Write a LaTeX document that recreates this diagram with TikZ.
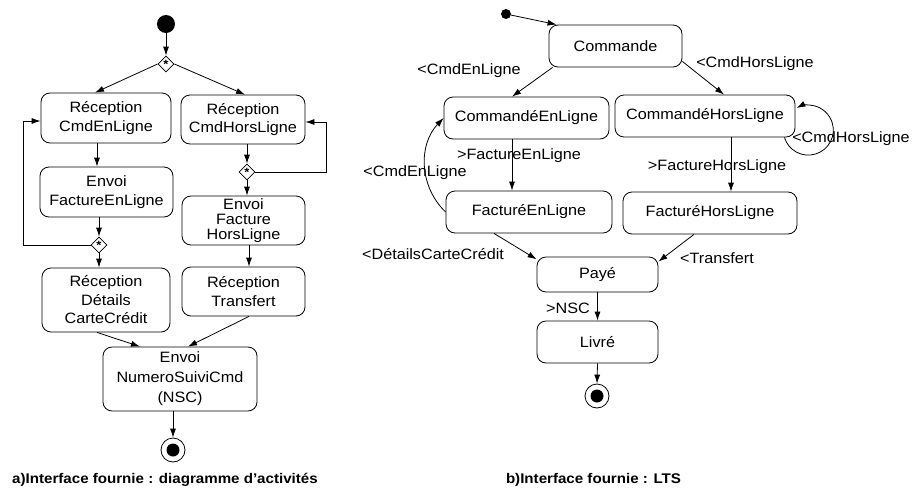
\documentclass[tikz,border=0pt]{standalone}
\usepackage{fontspec}
\setmainfont{Liberation Sans}[FakeStretch=1.08]
\usetikzlibrary{arrows.meta,shapes.geometric}

\begin{document}
\begin{tikzpicture}[x=1pt,y=1pt,
  act/.style={draw, rounded corners=9pt, align=center, inner sep=0pt, line width=0.8pt,
    font=\fontsize{15}{18.5}\selectfont},
  arr/.style={-{Latex[length=9pt,width=6pt]}, line width=0.8pt},
  choice/.style={draw, diamond, minimum size=16pt, inner sep=0pt, line width=0.8pt,
    font=\bfseries\fontsize{12}{12}\selectfont},
  debut/.style={circle, fill, inner sep=0pt},
  fin/.style={circle, draw, line width=0.8pt, inner sep=0pt, minimum size=24pt,
    path picture={\fill (path picture bounding box.center) circle (6.5pt);}},
  lbl/.style={inner sep=0pt, font=\fontsize{15}{18}\selectfont},
  capt/.style={inner sep=0pt, font=\bfseries\fontsize{14}{16}\selectfont}]
\useasboundingbox (0,0) rectangle (914,-491);

% a) diagramme d'activites
\node[debut, minimum size=18pt] (deb) at (166,-24) {};
\node[choice] (d1) at (166,-64) {\raisebox{-3.5pt}{*}};
\node[act, minimum width=130pt, minimum height=50pt] (rcl) at (106,-118) {Réception\\CmdEnLigne};
\node[act, minimum width=124pt, minimum height=49pt] (rch) at (243,-119.5) {Réception\\CmdHorsLigne};
\node[act, minimum width=133pt, minimum height=50pt] (efl) at (106.5,-192) {Envoi\\FactureEnLigne};
\node[choice] (d2) at (247,-172) {\raisebox{-3.5pt}{*}};
\node[act, minimum width=123pt, minimum height=49pt, font=\fontsize{15}{15}\selectfont] (efh) at (243.5,-220.5) {Envoi\\Facture\\HorsLigne};
\node[choice] (d3) at (99,-245) {\raisebox{-3.5pt}{*}};
\node[act, minimum width=128pt, minimum height=64pt] (rdc) at (106,-300) {Réception\\Détails\\CarteCrédit};
\node[act, minimum width=123pt, minimum height=49pt] (rtr) at (243.5,-291.5) {Réception\\Transfert};
\node[act, minimum width=154pt, minimum height=64pt, font=\fontsize{15}{20}\selectfont] (nsc) at (180,-379) {Envoi\\NumeroSuiviCmd\\(NSC)};
\node[fin] (fina) at (173,-450) {};
\coordinate (bl) at (23,-121);
\coordinate (br) at (326,-122);

\draw[arr] (deb) -- (d1);
\draw[arr] (d1.west) -- ([xshift=-11pt]rcl.north);
\draw[arr] (d1.east) -- ([xshift=2pt]rch.north);
\draw[arr] ([xshift=-9pt]rcl.south) -- ([xshift=-9pt]rcl.south |- efl.north);
\draw[arr] (efl.south -| d3) -- (d3.north);
\draw[arr] (d3.south) -- (d3 |- rdc.north);
\draw[arr] (d3.west) -| (bl) -- (bl -| rcl.west);
\draw[arr] (rch.south -| d2) -- (d2.north);
\draw[arr] (d2.east) -| (br) -- (br -| rch.east);
\draw[arr] (d2.south) -- (d2 |- efh.north);
\draw[arr] ([xshift=5.5pt]efh.south) -- ([xshift=5.5pt]efh.south |- rtr.north);
\draw[arr] ([xshift=-9pt]rdc.south) -- ([xshift=-40pt]nsc.north);
\draw[arr] ([xshift=5.5pt]rtr.south) -- ([xshift=8pt]nsc.north);
\draw[arr] ([xshift=-7pt]nsc.south) -- (fina.north);

% b) LTS
\node[debut, minimum size=10pt] (deb2) at (506,-14) {};
\node[act, minimum width=133pt, minimum height=42pt] (cmd) at (615.5,-46) {Commande};
\node[act, minimum width=165pt, minimum height=42pt] (cel) at (526.5,-118) {CommandéEnLigne};
\node[act, minimum width=180pt, minimum height=42pt] (chl) at (705,-116) {CommandéHorsLigne};
\node[act, minimum width=166pt, minimum height=42pt] (fel) at (529,-212) {FacturéEnLigne};
\node[act, minimum width=174pt, minimum height=42pt] (fhl) at (710,-213) {FacturéHorsLigne};
\node[act, minimum width=121pt, minimum height=35pt] (paye) at (597.5,-274.5) {Payé};
\node[act, minimum width=121pt, minimum height=42pt] (livre) at (597.5,-342) {Livré};
\node[fin] (finb) at (597,-396) {};

\draw[arr] (deb2) -- ([xshift=8pt]cmd.north west);
\draw[arr] ([xshift=4pt]cmd.south west) -- ([xshift=-14.5pt]cel.north);
\draw[arr] (cmd.-13) -- ([xshift=19pt]chl.north);
\draw[arr] ([xshift=-11pt]chl.south east) arc[start angle=197, end angle=478, radius=25pt];
\draw[arr] ([xshift=-14.5pt]cel.south) -- ([xshift=-14.5pt]cel.south |- fel.north);
\draw[arr] (fel.west) to[bend left=45] (cel.west);
\draw[arr] ([xshift=26pt]chl.south) -- ([xshift=26pt]chl.south |- fhl.north);
\draw[arr] ([xshift=-35pt]fel.south) -- (paye.166);
\draw[arr] ([xshift=-16pt]fhl.south) -- (paye.12);
\draw[arr] (paye.south) -- (livre.north);
\draw[arr] (livre.south) -- (finb.north);

\node[lbl] (l1) at (469,-71) {<CmdEnLigne};
\node[lbl] (l2) at (755,-64) {<CmdHorsLigne};
\node[lbl] (l3) at (851,-139) {<CmdHorsLigne};
\node[lbl] (l4) at (519,-156) {>FactureEnLigne};
\node[lbl] (l5) at (415,-173) {<CmdEnLigne};
\node[lbl] (l6) at (717,-167) {>FactureHorsLigne};
\node[lbl] (l7) at (433,-254) {<DétailsCarteCrédit};
\node[lbl] (l8) at (717,-258) {<Transfert};
\node[lbl] (l9) at (568,-308) {>NSC};

\node[capt, anchor=west] (capa) at (12,-480) {a)Interface fournie : diagramme d’activités};
\node[capt] (capb) at (593.5,-480) {b)Interface fournie : LTS};
\end{tikzpicture}
\end{document}
